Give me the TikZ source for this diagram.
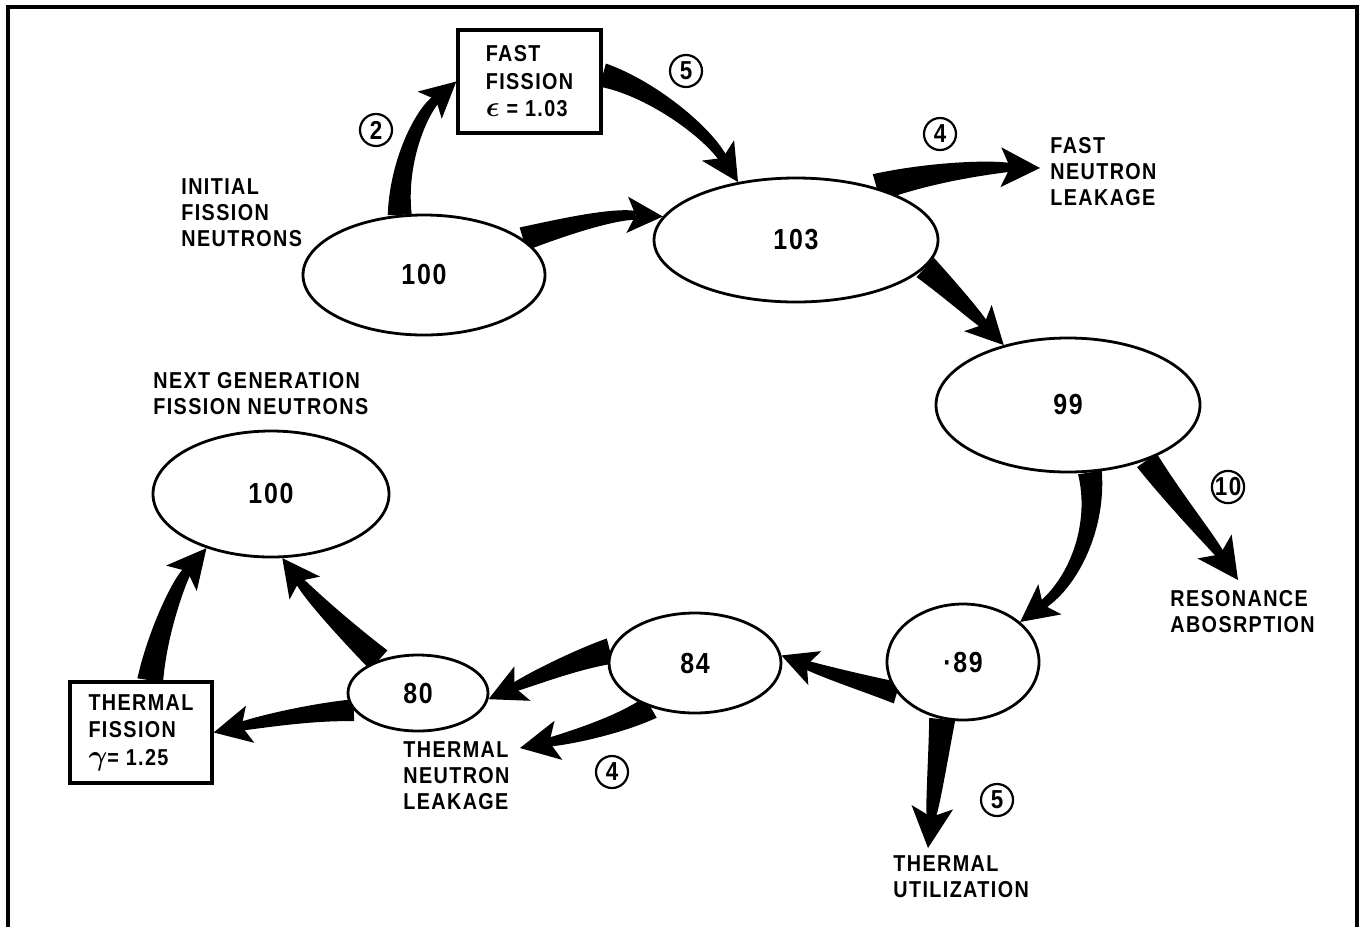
\documentclass[tikz,border=0pt]{standalone}
\usepackage{fontspec}
\setmainfont{Liberation Sans}[FakeStretch=0.86,LetterSpace=6]
\usetikzlibrary{shapes.geometric,calc}
\pgfdeclarelayer{bg}\pgfdeclarelayer{arr}\pgfsetlayers{bg,arr,main}
% tapered arrow: #1 start, #2 c1, #3 c2, #4 tip, #5 base half width (pt, number), #6 head length (pt, number)
\newcommand\tarrow[6]{%
 \coordinate (tN) at ($(#4)!0.68*#6pt!(#3)$);
 \fill ($(#1)!#5pt!90:(#2)$)
   .. controls ($(#2)!0.6*#5pt+0.4*2.2pt!90:(#3)$) and ($(#3)!0.3*#5pt+0.7*2.2pt!90:(#4)$) .. ($(tN)!2.2pt!90:(#4)$)
   -- ($(tN)!2.2pt!-90:(#4)$)
   .. controls ($(#3)!0.3*#5pt+0.7*2.2pt!-90:(#4)$) and ($(#2)!0.6*#5pt+0.4*2.2pt!-90:(#3)$) .. ($(#1)!#5pt!-90:(#2)$) -- cycle;
 \fill (#4) -- ($(#4)!#6pt!27:(#3)$) -- (tN) -- ($(#4)!#6pt!-27:(#3)$) -- cycle;
}
\newcommand\bigsym[1]{{\fontsize{15}{13.75}\selectfont\boldmath$#1$}}
\begin{document}
\begin{tikzpicture}[x=0.5pt,y=-0.5pt,
  ell/.style={ellipse,draw,line width=1.4pt,fill=white,inner sep=0pt,font=\bfseries\fontsize{14.5}{14.5}\selectfont},
  box/.style={rectangle,draw,line width=1.7pt,fill=white,align=left,inner sep=0pt,font=\bfseries\fontsize{11.5}{13.75}\selectfont},
  lab/.style={align=left,inner sep=0pt,anchor=north west,font=\bfseries\fontsize{11.5}{13}\selectfont},
  num/.style={circle,draw,line width=1.1pt,minimum size=16pt,inner sep=0pt,font=\bfseries\fontsize{13}{13}\selectfont}]
\useasboundingbox (0,0) rectangle (1363,927);
\begin{pgfonlayer}{bg}
\fill[white] (0,0) rectangle (1363,927);
\end{pgfonlayer}
\draw[line width=1.8pt] (8,927) -- (8,7) -- (1357,7) -- (1357,927);

% ellipses
\node[ell,minimum width=121pt,minimum height=60pt] (e100a) at (424,275) {100};
\node[ell,minimum width=142pt,minimum height=62pt] (e103) at (796,240) {103};
\node[ell,minimum width=132pt,minimum height=67pt] (e99) at (1068,405) {99};
\node[ell,minimum width=76pt,minimum height=58pt] (e89) at (963,662) {·89};
\node[ell,minimum width=86pt,minimum height=50pt] (e84) at (695,663) {84};
\node[ell,minimum width=70pt,minimum height=38pt] (e80) at (418,693) {80};
\node[ell,minimum width=118pt,minimum height=63pt] (e100b) at (271,494) {100};

% boxes
\node[box,minimum width=71.5pt,minimum height=51.5pt] (ff) at (529.5,81.5) {FAST\\FISSION\\\bigsym{\epsilon} = 1.03};
\node[box,minimum width=71pt,minimum height=50.5pt] (tf) at (141,732.5) {THERMAL\\FISSION\\\bigsym{\gamma}= 1.25};

% labels
\node[lab] (lInit) at (181,178) {INITIAL\\FISSION\\NEUTRONS};
\node[lab] (lNext) at (153,372) {NEXT GENERATION\\FISSION NEUTRONS};
\node[lab] (lFnl) at (1050,137) {FAST\\NEUTRON\\LEAKAGE};
\node[lab] (lRes) at (1170,590) {RESONANCE\\ABOSRPTION};
\node[lab] (lUtil) at (893,855) {THERMAL\\UTILIZATION};
\node[lab] (lTnl) at (403,741) {THERMAL\\NEUTRON\\LEAKAGE};

% circled numbers
\node[num] (n2) at (376,130) {2};
\node[num] (n5a) at (686,71) {5};
\node[num] (n4a) at (940,134) {4};
\node[num] (n10) at (1228,487) {10};
\node[num] (n5b) at (997,800) {5};
\node[num] (n4b) at (612,772) {4};

% free arrow ends
\coordinate (tFnl) at (1040,168);
\coordinate (tRes) at (1238,580);
\coordinate (tUtil) at (928,848);
\coordinate (tTnl) at (520,748);

\begin{pgfonlayer}{arr}
\tarrow{e100a.20}{560,228}{610,214}{e103.170}{6}{20}
\tarrow{e100a.112}{398,160}{422,112}{ff.west}{6}{20}
\tarrow{ff.5}{650,88}{705,130}{e103.135}{6}{21}
\tarrow{e103.33}{930,172}{990,167}{tFnl}{7}{22}
\tarrow{e103.-12}{950,290}{975,315}{e99.137}{6.5}{21}
\tarrow{e99.-72}{1098,525}{1075,580}{e89.35}{6}{21}
\tarrow{e99.-35}{1175,500}{1210,540}{tRes}{6}{23}
\tarrow{e89.205}{870,685}{825,672}{e84.5}{5.5}{20}
\tarrow{e89.-110}{938,760}{932,810}{tUtil}{6.5}{23}
\tarrow{e84.172}{575,660}{530,680}{e80.-5}{6.5}{21}
\tarrow{e84.225}{620,725}{570,738}{tTnl}{6}{22}
\tarrow{e80.140}{345,630}{310,595}{e100b.-80}{6.5}{21}
\tarrow{e80.195}{310,712}{260,722}{tf.east}{5.5}{21}
\tarrow{tf.80}{158,630}{180,580}{e100b.-140}{6.5}{22}
\end{pgfonlayer}
\end{tikzpicture}
\end{document}
